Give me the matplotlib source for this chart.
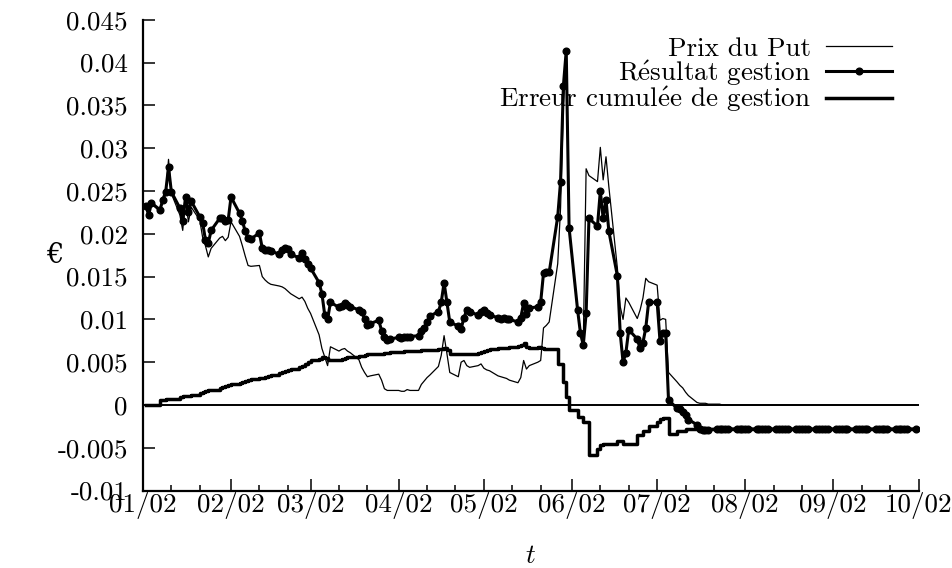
import numpy as np
import pandas as pd
import matplotlib
matplotlib.use('Agg')
import matplotlib.pyplot as plt
import matplotlib.dates as mdates
from matplotlib.ticker import FuncFormatter, MultipleLocator
from datetime import datetime

plt.rcParams['font.family'] = ['cmr10', 'DejaVu Serif']
plt.rcParams['mathtext.fontset'] = 'cm'
plt.rcParams['axes.unicode_minus'] = False
plt.rcParams['font.size'] = 19.5

# jours ouvres du 02/01/2002 au 30/09/2002
jours = pd.bdate_range('2002-01-02', '2002-09-30')

# valeurs en 1e-4 euros, une ligne par semaine
prix_put = np.array([
    232, 223, 235,
    226, 238, 246, 287, 247,
    222, 204, 239, 214, 231,
    216, 196, 186, 173, 183,
    195, 197, 192, 196, 214,
    197, 186, 174, 163, 162,
    163, 150, 146, 143, 141,
    139, 138, 136, 133, 130,
    124, 126, 121, 113, 107,
    82, 66, 56, 46, 68,
    63, 65, 66, 63, 61,
    53, 44, 38, 33, 34,
    36, 29, 19, 17, 17,
    17, 16, 16, 18, 17,
    17, 24, 28, 32, 35,
    45, 58, 81, 60, 38,
    33, 50, 52, 46, 44,
    46, 48, 43, 41, 40,
    34, 33, 32, 31, 29,
    26, 32, 52, 42, 46,
    50, 52, 90, 93, 97,
    165, 230, 350, 410, 205,
    110, 88, 72, 276, 268,
    261, 301, 263, 290, 255,
    160, 115, 100, 125, 120,
    101, 111, 125, 148, 144,
    140, 99, 101, 100, 38,
    27, 23, 20, 15, 11,
    3, 2, 2, 2, 1,
    1, 1, 0, 0, 0,
    0, 0, 0, 0, 0,
    0, 0, 0, 0, 0,
    0, 0, 0, 0, 0,
    0, 0, 0, 0, 0,
    0, 0, 0, 0, 0,
    0, 0, 0, 0, 0,
    0, 0, 0, 0, 0,
    0, 0, 0, 0, 0,
    0, 0, 0, 0, 0,
    0,
]) * 1e-4

resultat = np.array([
    233, 222, 236,
    228, 240, 249, 278, 249,
    230, 215, 243, 225, 238,
    220, 213, 193, 189, 204,
    218, 219, 215, 216, 243,
    224, 215, 203, 195, 194,
    201, 183, 181, 181, 180,
    176, 181, 183, 182, 176,
    172, 177, 171, 165, 160,
    143, 130, 105, 100, 120,
    114, 116, 119, 117, 115,
    111, 109, 101, 93, 95,
    99, 87, 79, 76, 77,
    79, 78, 79, 79, 80,
    81, 86, 90, 97, 104,
    109, 120, 143, 120, 97,
    92, 89, 102, 111, 109,
    105, 109, 111, 107, 105,
    102, 100, 102, 101, 100,
    97, 102, 119, 106, 113,
    115, 120, 154, 155, 155,
    220, 261, 373, 414, 207,
    111, 84, 70, 107, 218,
    209, 250, 218, 240, 203,
    151, 84, 50, 61, 88,
    77, 66, 73, 90, 120,
    120, 75, 84, 84, 6,
    -4, -5, -8, -12, -17,
    -23, -28, -29, -29, -29,
    -28, -28, -28, -28, -28,
    -28, -28, -28, -28, -28,
    -28, -28, -28, -28, -28,
    -28, -28, -28, -28, -28,
    -28, -28, -28, -28, -28,
    -28, -28, -28, -28, -28,
    -28, -28, -28, -28, -28,
    -28, -28, -28, -28, -28,
    -28, -28, -28, -28, -28,
    -28, -28, -28, -28, -28,
    -28,
]) * 1e-4

erreur = np.array([
    0, 0, 0,
    6, 6, 7, 7, 7,
    9, 10, 11, 11, 12,
    14, 15, 16, 17, 18,
    20, 21, 22, 23, 24,
    26, 27, 28, 29, 30,
    31, 32, 33, 34, 35,
    37, 38, 40, 41, 42,
    44, 46, 48, 50, 52,
    54, 56, 55, 52, 53,
    53, 54, 55, 56, 56,
    57, 57, 58, 59, 59,
    60, 60, 61, 61, 62,
    62, 62, 63, 63, 63,
    63, 64, 64, 64, 64,
    65, 65, 66, 64, 60,
    59, 59, 60, 60, 60,
    61, 62, 63, 64, 65,
    66, 66, 67, 67, 68,
    69, 70, 72, 68, 67,
    68, 66, 65, 65, 65,
    48, 48, 27, 9, -6,
    -14, -14, -20, -20, -58,
    -51, -47, -45, -45, -45,
    -42, -42, -46, -46, -46,
    -35, -35, -30, -30, -25,
    -20, -16, -15, -15, -34,
    -30, -30, -30, -28, -28,
    -28, -28, -28, -28, -28,
    -28, -28, -28, -28, -28,
    -28, -28, -28, -28, -28,
    -28, -28, -28, -28, -28,
    -28, -28, -28, -28, -28,
    -28, -28, -28, -28, -28,
    -28, -28, -28, -28, -28,
    -28, -28, -28, -28, -28,
    -28, -28, -28, -28, -28,
    -28, -28, -28, -28, -28,
    -28, -28, -28, -28, -28,
    -28,
]) * 1e-4

fig = plt.figure(figsize=(9.53, 5.68), dpi=100)
ax = fig.add_axes([0.1500, 0.1363, 0.8138, 0.8288])

ax.axhline(0, color='black', lw=1.4, zorder=1)
ax.plot(jours, prix_put, color='black', lw=0.9, label='Prix du Put')
ax.plot(jours, resultat, color='black', lw=2.2, marker='o', ms=4.8,
        label=r'R$\acute{\mathrm{e}}$sultat gestion')
ax.step(jours, erreur, where='post', color='black', lw=2.5,
        label=r'Erreur cumul$\acute{\mathrm{e}}$e de gestion')

ax.set_xlim(datetime(2002, 1, 1), datetime(2002, 10, 1))
ax.set_ylim(-0.01, 0.045)

ax.xaxis.set_major_locator(mdates.MonthLocator())
ax.xaxis.set_minor_locator(mdates.DayLocator(bymonthday=[11, 21]))
ax.xaxis.set_major_formatter(mdates.DateFormatter('%m/%y'))
ax.yaxis.set_major_locator(MultipleLocator(0.005))
ax.yaxis.set_major_formatter(FuncFormatter(lambda v, p: '%g' % (round(v, 4) + 0.0)))

for s in ['top', 'right']:
    ax.spines[s].set_visible(False)
for s in ['left', 'bottom']:
    ax.spines[s].set_linewidth(1.6)

ax.tick_params(axis='both', which='major', direction='in', length=8.6, width=1.1)
ax.tick_params(axis='x', which='minor', direction='in', length=4.3, width=1.1)
ax.tick_params(axis='y', pad=10.8)
ax.tick_params(axis='x', pad=1)

ax.set_ylabel('€', rotation=0, family='DejaVu Serif', ha='center', va='center')
ax.yaxis.set_label_coords((55 - 143) / 775.5, 0.5)
ax.set_xlabel('$t$', va='center')
ax.xaxis.set_label_coords(0.5, (490.6 - 556) / 470.8)

ax.legend(loc='upper right', bbox_to_anchor=(892 / 953, 1 - 37 / 568),
          bbox_transform=fig.transFigure, frameon=False, markerfirst=False,
          alignment='right', handlelength=2.45, handletextpad=0.55,
          labelspacing=-0.1, borderpad=0, borderaxespad=0, numpoints=1)

fig.savefig('out.png', dpi=100)
